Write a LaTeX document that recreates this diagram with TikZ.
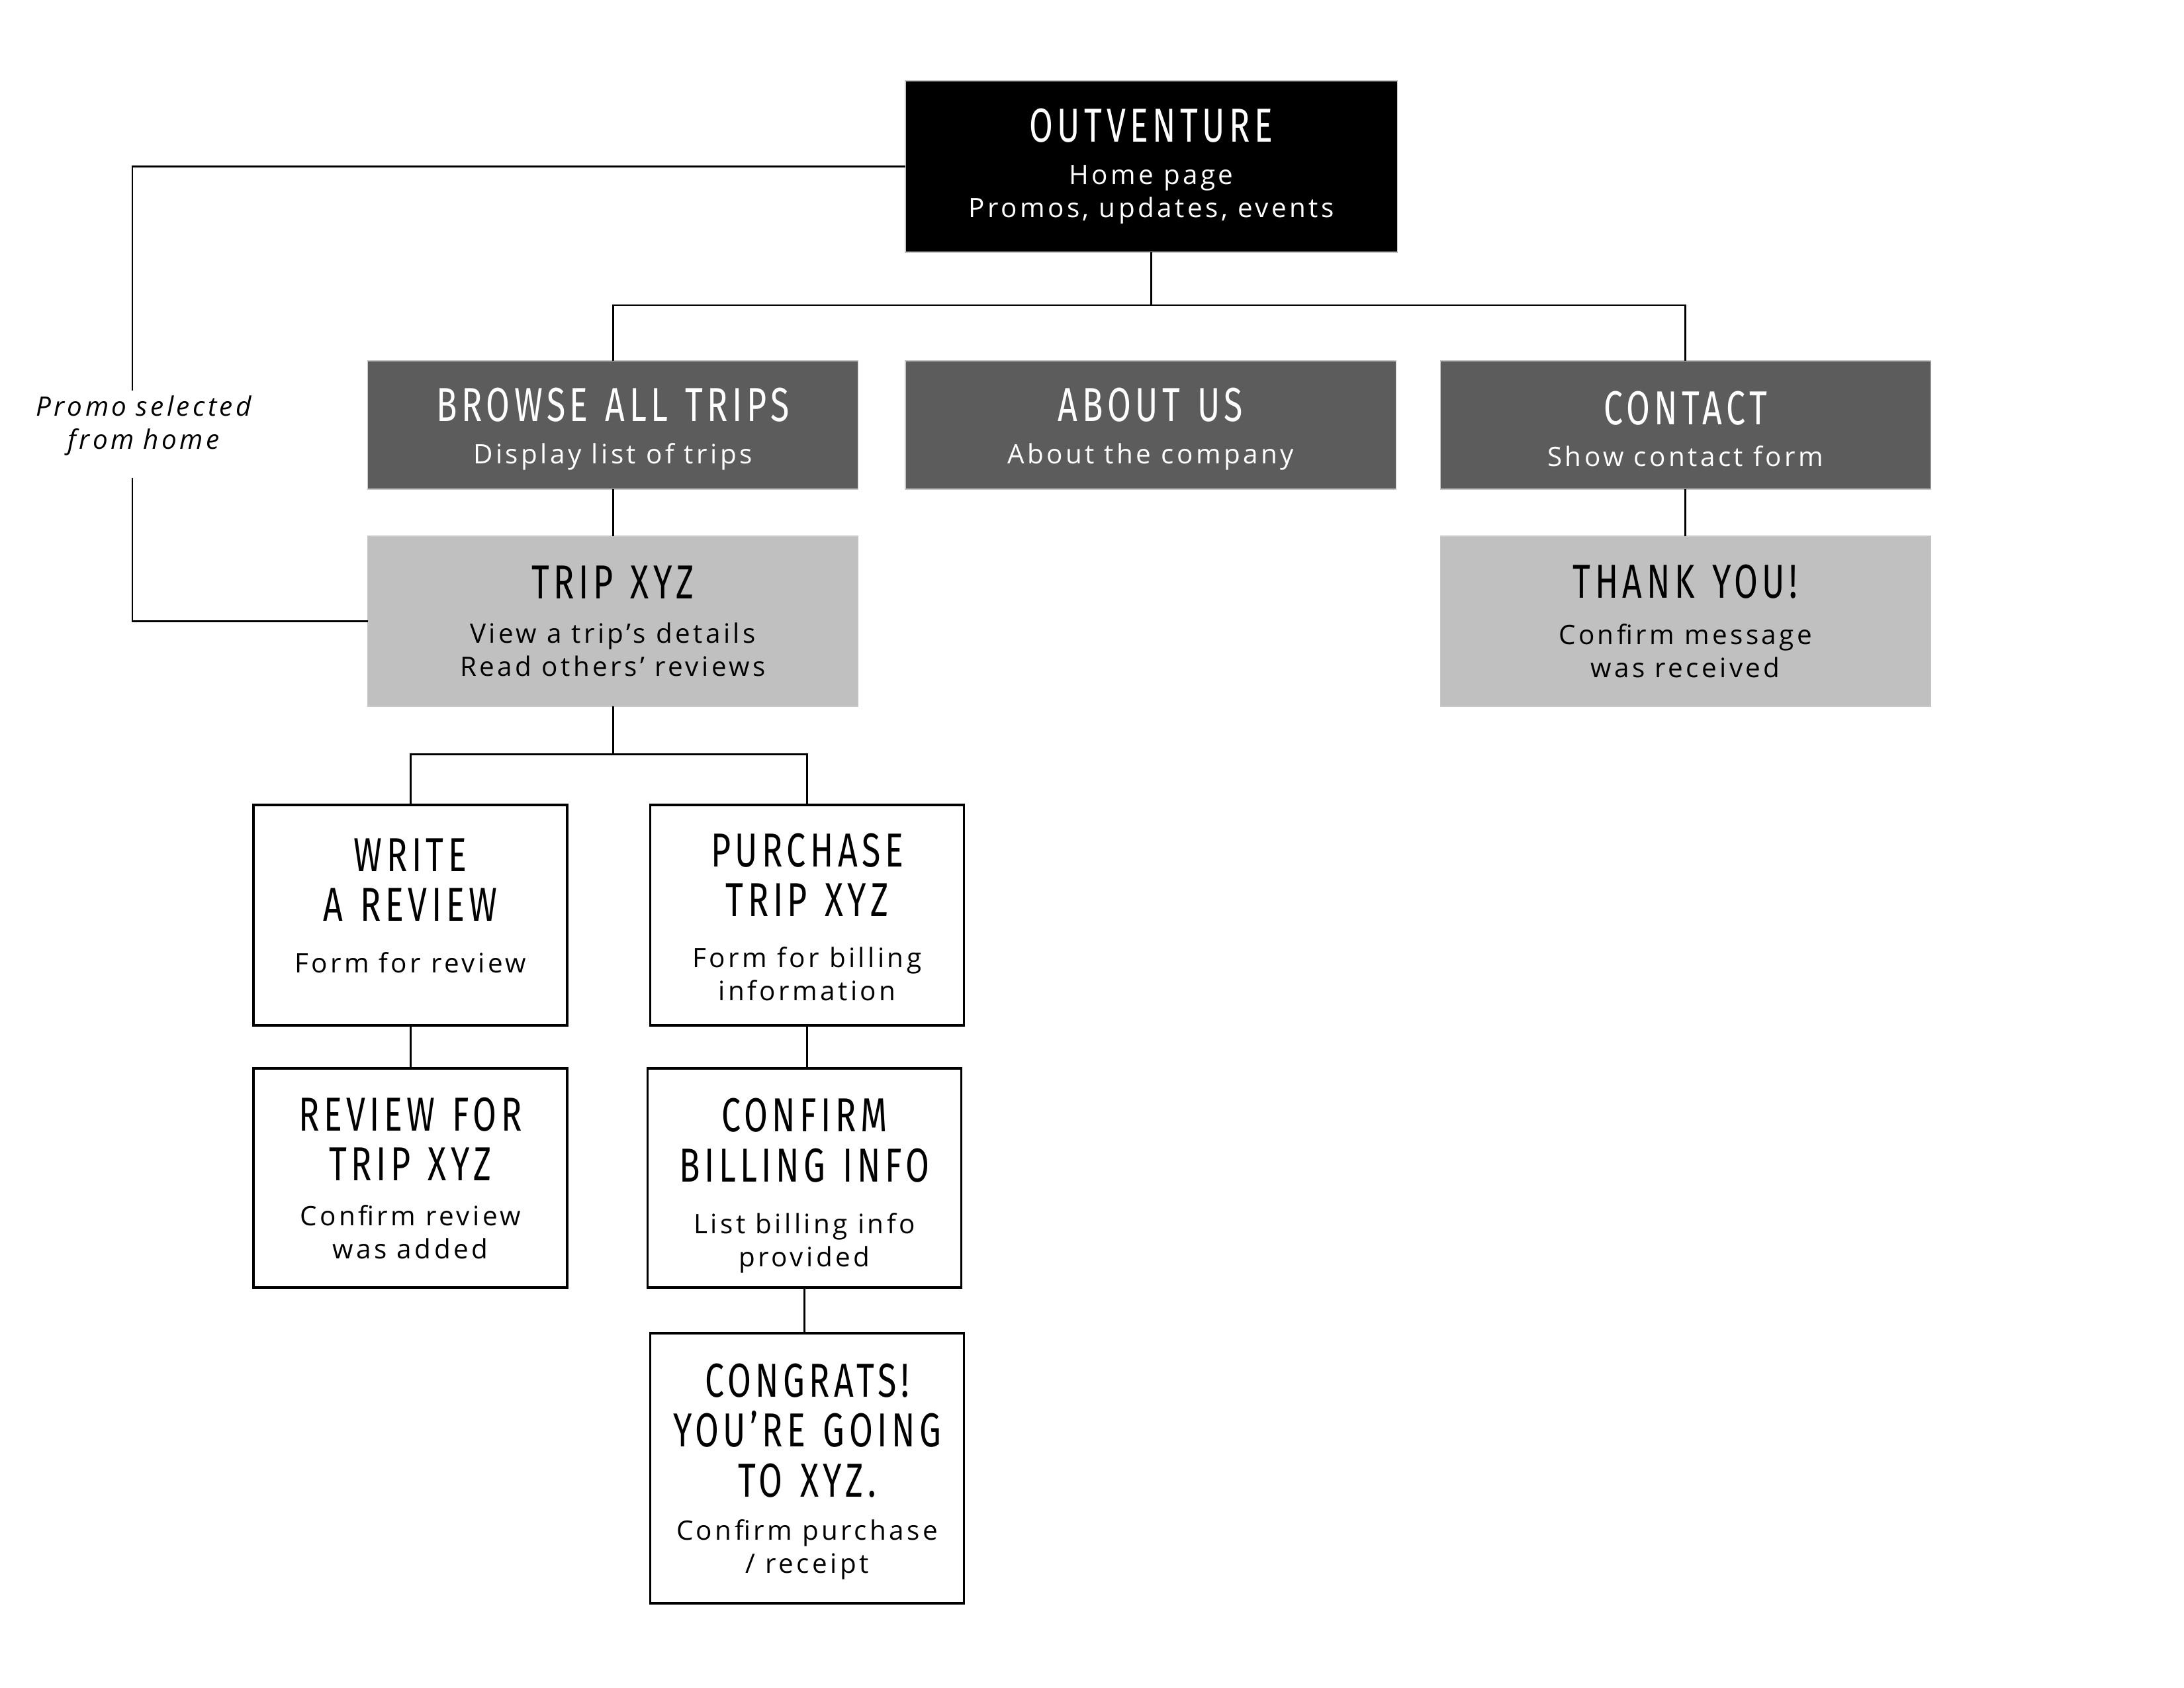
\documentclass[tikz,border=0pt]{standalone}
\usepackage{fontspec}
\setmainfont{Open Sans}
\newfontfamily\titlefont[FakeStretch=0.72,LetterSpace=9]{Fira Sans}
\newfontfamily\subfont[LetterSpace=11]{Open Sans}
\newfontfamily\notefont[LetterSpace=11]{Open Sans}

\newlength{\du}
\setlength{\du}{0.1mm}

\definecolor{homefill}{rgb}{0.000000, 0.000000, 0.000000}
\definecolor{mainfill}{rgb}{0.360000, 0.360000, 0.360000}
\definecolor{subfill}{rgb}{0.752000, 0.752000, 0.752000}
\definecolor{edgeline}{rgb}{0.780000, 0.780000, 0.780000}
\definecolor{dialinecolor}{rgb}{0.000000, 0.000000, 0.000000}

% title, gap, subtitle
\newcommand{\pg}[3][5pt]{{\titlefont\fontsize{20.5pt}{21.5pt}\selectfont\spaceskip=7.5pt\relax #2\par}\vspace{#1}{\subfont\fontsize{11.5pt}{14.2pt}\selectfont\spaceskip=4.3pt\relax #3\par}}
\newcommand{\notestyle}{\notefont\itshape\fontsize{11.5pt}{14.2pt}\selectfont\spaceskip=4pt\relax}

\tikzset{
  pagebox/.style={rectangle, inner sep=0pt, outer sep=0pt},
  homebox/.style={pagebox, fill=homefill, draw=edgeline, line width=0.3pt,
    minimum width=743\du, minimum height=259\du},
  mainbox/.style={pagebox, fill=mainfill, draw=edgeline, line width=0.3pt,
    minimum width=741\du, minimum height=194\du},
  subbox/.style={pagebox, fill=subfill, draw=edgeline, line width=0.3pt,
    minimum width=741\du, minimum height=257\du},
  leafbox/.style={pagebox, fill=white, draw=dialinecolor, line width=1.1pt,
    minimum width=474\du},
  pagetext/.style={align=center, inner sep=0pt, text width=720\du},
  leaftext/.style={align=center, inner sep=0pt, text width=460\du},
  link/.style={draw=dialinecolor, line width=0.85pt}
}

\begin{document}
\begin{tikzpicture}
\useasboundingbox (0,0) rectangle (3300\du,-2550\du);
% home
\node[homebox] (home) at (1739.5\du,-251.5\du) {};
\node[pagetext, text=white] (home-text) at (home.center) {\pg[4pt]{OUTVENTURE}{Home page\\Promos, updates, events}};
% first level
\node[mainbox] (browse) at (926\du,-642\du) {};
\node[mainbox] (about) at (1738.5\du,-642\du) {};
\node[mainbox] (contact) at (2546.5\du,-642\du) {};
\node[pagetext, text=white] (browse-text) at ([yshift=-6\du]browse.center) {\pg[3.8pt]{BROWSE ALL TRIPS}{Display list of trips}};
\node[pagetext, text=white] (about-text) at ([yshift=-6\du]about.center) {\pg[3.8pt]{ABOUT US}{About the company}};
\node[pagetext, text=white] (contact-text) at ([yshift=-6\du]contact.center) {\pg[3.8pt]{CONTACT}{Show contact form}};
% second level
\node[subbox] (trip) at (926\du,-938.5\du) {};
\node[subbox] (thanks) at (2546.5\du,-938.5\du) {};
\node[pagetext] (trip-text) at (trip.center) {\pg{TRIP XYZ}{View a trip’s details\\Read others’ reviews}};
\node[pagetext] (thanks-text) at (thanks.center) {\pg[5.8pt]{THANK YOU!}{Confirm message\\was received}};
% leaves
\node[leafbox, minimum height=333\du] (write) at (620\du,-1382.5\du) {};
\node[leafbox, minimum height=333\du] (purchase) at (1219.5\du,-1382.5\du) {};
\node[leafbox, minimum height=331\du] (review) at (620\du,-1779.5\du) {};
\node[leafbox, minimum height=331\du] (confirm) at (1215.5\du,-1779.5\du) {};
\node[leafbox, minimum height=408\du] (congrats) at (1219.5\du,-2218\du) {};
\node[leaftext] (write-text) at ([yshift=14\du]write.center) {\pg[8pt]{WRITE\\A REVIEW}{Form for review}};
\node[leaftext] (purchase-text) at ([yshift=-3\du]purchase.center) {\pg[7.7pt]{PURCHASE\\TRIP XYZ}{Form for billing\\information}};
\node[leaftext] (review-text) at (review.center) {\pg{REVIEW FOR\\TRIP XYZ}{Confirm review\\was added}};
\node[leaftext] (confirm-text) at ([yshift=-11.5\du]confirm.center) {\pg[8pt]{CONFIRM\\BILLING INFO}{List billing info\\provided}};
\node[leaftext] (congrats-text) at ([yshift=-5\du]congrats.center) {\pg[4.4pt]{CONGRATS!\\YOU’RE GOING\\TO XYZ.}{Confirm purchase\\/ receipt}};
% promo note
\node[align=center, inner sep=0pt, font=\notestyle] (promo) at (217\du,-643\du) {Promo selected\\from home};
\coordinate (promotop) at (200\du,-590\du);
\coordinate (promobot) at (200\du,-722\du);
% links
\draw[link] (home.south) -- ++(0,-80\du) coordinate (homefork);
\draw[link] (browse.north) |- (homefork) -| (contact.north);
\draw[link] (home.west) -| (promotop);
\draw[link] (promobot) |- (trip.west);
\draw[link] (browse.south) -- (trip.north);
\draw[link] (contact.south) -- (thanks.north);
\draw[link] (trip.south) -- ++(0,-72\du) coordinate (tripfork);
\draw[link] (write.north) |- (tripfork) -| (purchase.north);
\draw[link] (write.south) -- (review.north);
\draw[link] (purchase.south) -- (purchase.south |- confirm.north);
\draw[link] (confirm.south) -- (confirm.south |- congrats.north);
\end{tikzpicture}
\end{document}
